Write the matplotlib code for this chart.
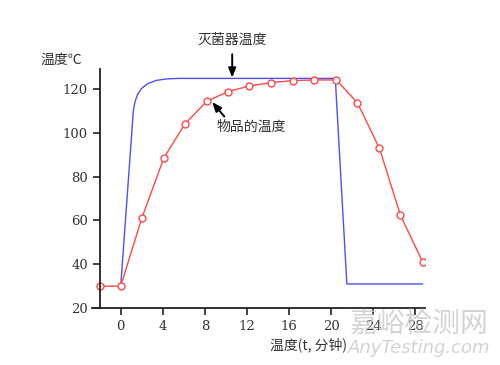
#!/usr/bin/env python3
"""
Sterilizer vs. product temperature during a sterilization cycle.
"""

import matplotlib
matplotlib.use("Agg")
import matplotlib.pyplot as plt

CJK = ["Noto Sans CJK SC", "DejaVu Sans"]

# Product temperature (red, open circles)
item_t = [-2, 0, 2, 4.1, 6.1, 8.2, 10.2, 12.2, 14.3, 16.4, 18.4, 20.5, 22.5, 24.6, 26.6, 28.7]
item_temp = [30, 30, 61, 88.5, 104, 114.4, 118.8, 121.3, 122.9, 123.8, 124.1, 124.1,
             113.7, 92.9, 62.3, 41.1]

# Sterilizer temperature (blue line)
steril_t = [0, 1.2, 1.35, 1.6, 2.0, 2.6, 3.4, 4.4, 5.5, 20.4, 21.5, 28.7]
steril_temp = [30, 110, 114, 117.5, 120.3, 122.5, 123.9, 124.6, 124.8, 124.8, 31, 31]

x_ticks = [0, 4, 8, 12, 16, 20, 24, 28]
y_ticks = [20, 40, 60, 80, 100, 120]

ARROW = dict(arrowstyle="-|>,head_length=0.55,head_width=0.22",
             color="black", lw=1.4, shrinkA=0, shrinkB=0)


def make_chart():
    fig = plt.figure(figsize=(5.0, 3.65), dpi=100)
    ax = fig.add_axes([0.184, 0.156, 0.666, 0.655])

    ax.plot(steril_t, steril_temp, color="#5050f0", linewidth=1.0)
    ax.plot(item_t, item_temp, color="#ff4848", linewidth=1.0, marker="o",
            markersize=5, markerfacecolor="white", markeredgecolor="#ff4848",
            markeredgewidth=1.0)

    ax.set_xlim(-2.73, 28.93)
    ax.set_ylim(20, 129.1)
    ax.set_xticks(x_ticks)
    ax.set_yticks(y_ticks)

    ax.spines["top"].set_visible(False)
    ax.spines["right"].set_visible(False)
    ax.spines["left"].set_position(("data", -2))
    for side in ("left", "bottom"):
        ax.spines[side].set_linewidth(1.3)
        ax.spines[side].set_color("#222222")
    ax.tick_params(direction="out", length=5, width=1.2, colors="#222222",
                   labelsize=9.5)
    for lab in ax.get_xticklabels() + ax.get_yticklabels():
        lab.set_family("DejaVu Serif")
        lab.set_color("#333333")

    # annotations: arrows drawn separately from their labels
    ax.annotate("", xy=(10.6, 125.2), xytext=(10.6, 135.8),
                annotation_clip=False, arrowprops=ARROW)
    ax.text(10.6, 142.4, "灭菌器温度", ha="center", va="center", fontsize=10,
            family=CJK, color="#333333", clip_on=False)

    ax.annotate("", xy=(8.7, 114.0), xytext=(9.85, 107.4), arrowprops=ARROW)
    ax.text(9.1, 102.6, "物品的温度", ha="left", va="center", fontsize=10,
            family=CJK, color="#333333")

    fig.text(61 / 500, 1 - 60 / 365, "温度℃", ha="center", va="center",
             fontsize=10, family=CJK, color="#333333")
    fig.text(308 / 500, 1 - 345 / 365, "温度(t, 分钟)", ha="center", va="center",
             fontsize=10, family=CJK, color="#333333")

    # watermark
    fig.text(419 / 500, 1 - 324 / 365, "嘉峪检测网", ha="center", va="center",
             fontsize=20, family=CJK, color="#c8c8c8", alpha=0.8)
    fig.text(419 / 500, 1 - 348 / 365, "AnyTesting.com", ha="center", va="center",
             fontsize=13, style="italic", family="DejaVu Sans", color="#c8c8c8",
             alpha=0.8)
    return fig


def main():
    fig = make_chart()
    fig.savefig("out.png", dpi=100)


if __name__ == "__main__":
    main()
